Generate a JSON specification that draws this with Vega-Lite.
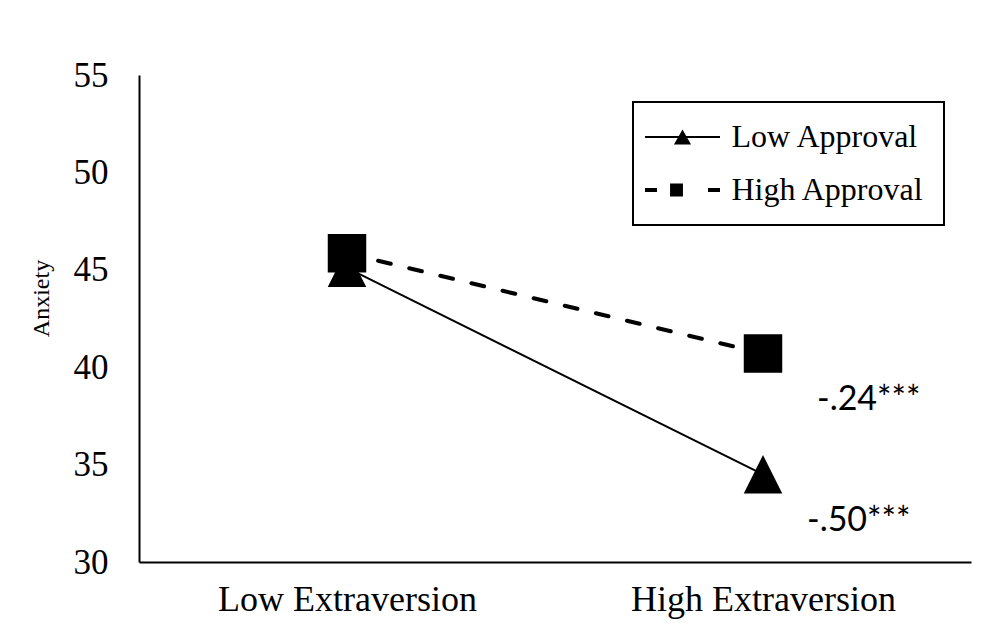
{
  "$schema": "https://vega.github.io/schema/vega-lite/v6.json",
  "width": 832,
  "height": 487,
  "autosize": {"type": "none"},
  "padding": {"left": 139, "top": 75, "right": 27, "bottom": 65},
  "background": "white",
  "config": {
    "view": {"stroke": null},
    "axis": {
      "grid": false,
      "ticks": false,
      "tickSize": 0,
      "domainColor": "black",
      "domainWidth": 2,
      "labelColor": "black",
      "labelFont": "Liberation Serif",
      "titleFont": "Liberation Serif",
      "titleColor": "black",
      "titleFontWeight": "normal"
    },
    "legend": {"strokeWidth": 2}
  },
  "datasets": {
    "points": [
      {"Extraversion": "Low Extraversion", "Approval": "Low Approval", "Anxiety": 45.1},
      {"Extraversion": "High Extraversion", "Approval": "Low Approval", "Anxiety": 34.5},
      {"Extraversion": "Low Extraversion", "Approval": "High Approval", "Anxiety": 45.85},
      {"Extraversion": "High Extraversion", "Approval": "High Approval", "Anxiety": 40.7}
    ],
    "notes": [
      {"Extraversion": "High Extraversion", "Anxiety": 38.3, "label": "-.24***"},
      {"Extraversion": "High Extraversion", "Anxiety": 32.1, "label": "-.50***"}
    ]
  },
  "encoding": {
    "x": {
      "field": "Extraversion",
      "type": "nominal",
      "sort": ["Low Extraversion", "High Extraversion"],
      "scale": {"type": "point", "padding": 0.5},
      "axis": {
        "title": null,
        "labelAngle": 0,
        "labelFont": "Liberation Serif",
        "labelFontSize": 36,
        "labelPadding": 20,
        "labelLimit": 500
      }
    },
    "y": {
      "field": "Anxiety",
      "type": "quantitative",
      "scale": {"domain": [30, 55], "nice": false, "zero": false},
      "axis": {
        "values": [30, 35, 40, 45, 50, 55],
        "labelFont": "Liberation Serif",
        "labelFontSize": 35,
        "labelPadding": 31,
        "title": "Anxiety",
        "titleFont": "Liberation Serif",
        "titleFontSize": 24,
        "titleFontWeight": "normal",
        "titleX": -91,
        "titleY": 223,
        "titleAngle": -90,
        "titleBaseline": "alphabetic"
      }
    }
  },
  "layer": [
    {
      "data": {"name": "points"},
      "transform": [{"filter": "datum.Approval === 'Low Approval'"}],
      "mark": {"type": "line", "color": "black", "strokeWidth": 2}
    },
    {
      "data": {"name": "points"},
      "transform": [{"filter": "datum.Approval === 'High Approval'"}],
      "mark": {"type": "line", "color": "black", "strokeWidth": 4, "strokeCap": "round", "strokeDash": [13, 19]}
    },
    {
      "data": {"name": "points"},
      "mark": {"type": "point", "filled": true, "color": "black", "opacity": 0, "size": 900},
      "encoding": {
        "shape": {
          "field": "Approval",
          "type": "nominal",
          "scale": {
            "domain": ["Low Approval", "High Approval"],
            "range": [
              "M-2.5,-0.067H2.5V0.067H-2.5ZM-0.57,0.5L0,-0.5L0.57,0.5Z",
              "M-2.5,-0.133H-1.7V0.133H-2.5ZM-0.83,-0.43H0.03V0.43H-0.83ZM1.7,-0.133H2.5V0.133H1.7Z"
            ]
          },
          "legend": {
            "title": null,
            "orient": "none",
            "legendX": 494,
            "legendY": 27,
            "strokeColor": "black",
            "padding": 19,
            "rowPadding": 21,
            "labelFont": "Liberation Serif",
            "labelFontSize": 32,
            "labelColor": "black",
            "labelOffset": 33,
            "labelLimit": 400,
            "symbolSize": 900,
            "symbolOffset": 14.5,
            "symbolOpacity": 1,
            "symbolFillColor": "black",
            "symbolStrokeWidth": 0
          }
        }
      }
    },
    {
      "data": {"name": "points"},
      "transform": [{"filter": "datum.Approval === 'Low Approval'"}],
      "mark": {"type": "point", "shape": "M0,-1L1,1L-1,1Z", "filled": true, "color": "black", "opacity": 1, "size": 1480}
    },
    {
      "data": {"name": "points"},
      "transform": [{"filter": "datum.Approval === 'High Approval'"}],
      "mark": {"type": "point", "shape": "square", "filled": true, "color": "black", "opacity": 1, "size": 1480}
    },
    {
      "data": {"name": "notes"},
      "transform": [{"filter": "datum.label === '-.24***'"}],
      "mark": {"type": "text", "align": "left", "baseline": "middle", "dx": 54, "font": "Lato", "fontSize": 34, "color": "black"},
      "encoding": {"text": {"field": "label"}}
    },
    {
      "data": {"name": "notes"},
      "transform": [{"filter": "datum.label === '-.50***'"}],
      "mark": {"type": "text", "align": "left", "baseline": "middle", "dx": 44, "font": "Lato", "fontSize": 34, "color": "black"},
      "encoding": {"text": {"field": "label"}}
    }
  ]
}
